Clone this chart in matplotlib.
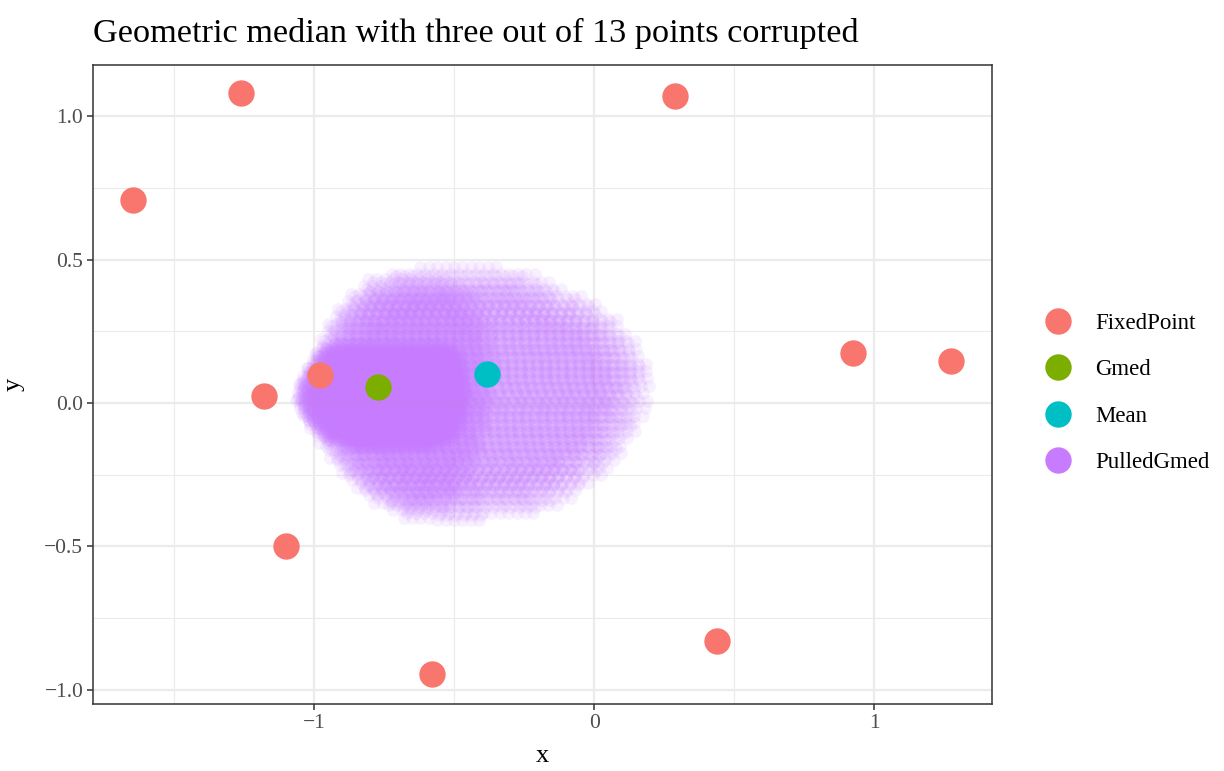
import numpy as np
import matplotlib
matplotlib.use("Agg")
import matplotlib.pyplot as plt
from matplotlib.lines import Line2D

plt.rcParams['font.family'] = ['Liberation Serif', 'DejaVu Serif']

# the ten points that stay put
fixed_x = [-1.261, 0.289, -1.646, 0.925, 1.275, -0.979, -1.179, -1.100, -0.579, 0.439]
fixed_y = [1.080, 1.070, 0.707, 0.174, 0.146, 0.098, 0.024, -0.498, -0.944, -0.829]

gmed_x, gmed_y = [-0.771], [0.056]
mean_x, mean_y = [-0.382], [0.101]

# extent of the pulled-gmed cloud, row by row (y, left x, right x)
cloud_y = [0.485, 0.463, 0.418, 0.359, 0.300, 0.230, 0.160, 0.091, 0.021,
           -0.049, -0.118, -0.188, -0.258, -0.328, -0.383, -0.408]
cloud_left = [-0.55, -0.71, -0.80, -0.87, -0.92, -0.96, -0.985, -1.025, -1.045,
              -1.025, -0.98, -0.93, -0.87, -0.79, -0.68, -0.56]
cloud_right = [-0.42, -0.24, -0.135, -0.005, 0.08, 0.14, 0.185, 0.20, 0.195,
               0.175, 0.14, 0.095, 0.02, -0.07, -0.19, -0.40]

# busier left half
mid_y = [0.418, 0.359, 0.300, 0.230, 0.160, 0.091, 0.021, -0.049, -0.118,
         -0.188, -0.258, -0.328, -0.383]
mid_left = [-0.80, -0.87, -0.92, -0.96, -0.985, -1.025, -1.045, -1.025, -0.98,
            -0.93, -0.87, -0.79, -0.68]
mid_right = [-0.52, -0.44, -0.40, -0.38, -0.37, -0.37, -0.37, -0.38, -0.40,
             -0.42, -0.45, -0.50, -0.57]

# solid core around the median
core_y = [0.200, 0.185, 0.125, 0.070, 0.010, -0.049, -0.118, -0.145]
core_left = [-0.89, -0.965, -1.00, -1.035, -1.045, -1.015, -0.945, -0.86]
core_right = [-0.575, -0.50, -0.475, -0.465, -0.46, -0.475, -0.51, -0.575]

RED, GREEN, CYAN, PURPLE = '#F8766D', '#7CAE00', '#00BFC4', '#C77CFF'


def fill_rows(ys, lefts, rights, step, scale=1.0):
    # hex grid of points inside the row extents, optionally shrunk to the middle
    ys_a, l_a, r_a = np.array(ys), np.array(lefts), np.array(rights)
    cxm = ((l_a + r_a) / 2).mean()
    cym = ys_a.mean()
    ys_s = (cym + (ys_a - cym) * scale)[::-1]
    l_s = (cxm + (l_a - cxm) * scale)[::-1]
    r_s = (cxm + (r_a - cxm) * scale)[::-1]
    px, py = [], []
    dy = step * 0.866
    row = 0
    for yy in np.arange(ys_s[0], ys_s[-1] + 1e-9, dy):
        lo = np.interp(yy, ys_s, l_s)
        hi = np.interp(yy, ys_s, r_s)
        off = (step / 2) * (row % 2)
        xs = np.arange(lo + off, hi + 1e-9, step)
        px.extend(xs)
        py.extend([yy] * len(xs))
        row += 1
    return np.array(px), np.array(py)


fig = plt.figure(figsize=(12.24, 7.71), dpi=100)
ax = fig.add_axes([0.076, 0.0869, 0.7345, 0.8288])

layers = [
    (cloud_y, cloud_left, cloud_right, 0.030, [1.0, 0.96, 0.9, 0.84, 0.76], 0.11),
    (mid_y, mid_left, mid_right, 0.030, [1.04, 0.96, 0.88], 0.11),
    (core_y, core_left, core_right, 0.016, [1.06, 1.0, 0.92, 0.84], 0.12),
]
for ys, ls, rs, step, scales, a in layers:
    for sc in scales:
        cx, cy = fill_rows(ys, ls, rs, step, sc)
        ax.scatter(cx, cy, s=85, color=PURPLE, alpha=a, linewidths=0, zorder=2)

ax.scatter(fixed_x, fixed_y, s=360, color=RED, linewidths=0, zorder=3)
ax.scatter(gmed_x, gmed_y, s=360, color=GREEN, linewidths=0, zorder=3)
ax.scatter(mean_x, mean_y, s=360, color=CYAN, linewidths=0, zorder=3)

ax.set_xlim(-1.789, 1.421)
ax.set_ylim(-1.049, 1.178)

ax.set_xticks([-1, 0, 1])
ax.set_xticklabels(['\u22121', '0', '1'])
ax.set_yticks([-1.0, -0.5, 0.0, 0.5, 1.0])
ax.set_yticklabels(['\u22121.0', '\u22120.5', '0.0', '0.5', '1.0'])
ax.set_xticks([-1.5, -0.5, 0.5], minor=True)
ax.set_yticks([-0.75, -0.25, 0.25, 0.75], minor=True)
ax.grid(which='major', color='#EBEBEB', linewidth=1.6, zorder=0)
ax.grid(which='minor', color='#EBEBEB', linewidth=0.8, zorder=0)
ax.set_axisbelow(True)
ax.tick_params(which='major', length=4, width=1.1, color='#333333',
               labelcolor='#4D4D4D', labelsize=15.5, pad=3)
ax.tick_params(which='minor', length=0)
for sp in ax.spines.values():
    sp.set_color('#333333')
    sp.set_linewidth(1.1)

ax.set_xlabel('x', fontsize=19, labelpad=9)
ax.set_ylabel('y', fontsize=19, labelpad=14)

fig.text(93 / 1224, 1 - 42 / 771, 'Geometric median with three out of 13 points corrupted',
         fontsize=24.7, ha='left', va='baseline')

handles = [Line2D([], [], marker='o', linestyle='', markersize=19,
                  markerfacecolor=c, markeredgewidth=0)
           for c in (RED, GREEN, CYAN, PURPLE)]
fig.legend(handles, ['FixedPoint', 'Gmed', 'Mean', 'PulledGmed'],
           loc='center left', bbox_to_anchor=(1033 / 1224, 1 - 393 / 771),
           frameon=False, fontsize=16.5, labelspacing=1.1, handletextpad=1.0,
           borderpad=0, handlelength=1.2)

fig.savefig('out.png', dpi=100)
